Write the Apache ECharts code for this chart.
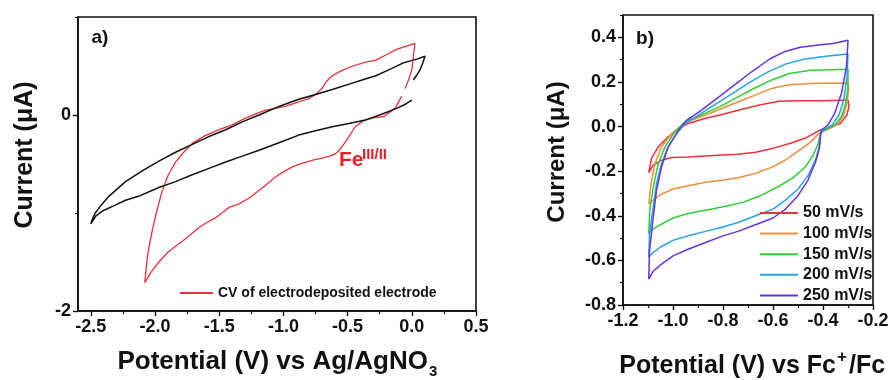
<!DOCTYPE html>
<html>
<head>
<meta charset="utf-8">
<script src="https://cdn.jsdelivr.net/npm/echarts@6/dist/echarts.min.js"></script>
<style>html,body{margin:0;padding:0;background:#fff}#c{width:892px;height:380px}</style>
</head>
<body>
<div id="c"></div>
<script>
// ---------- Panel a data ----------
const aLabelTicks = [-2.5, -2.0, -1.5, -1.0, -0.5, 0.0, 0.5];
const aMinorTicks = [-2.25, -1.75, -1.25, -0.75, -0.25, 0.25];
const aYLabelTicks = [-2, 0];
const aYMinorTicks = [-1, 1];
const aLegendName = 'CV of electrodeposited electrode';
const blackCV = [
  [0.0,0.153],[-0.05,0.11],[-0.118,0.068],[-0.25,0.0],[-0.36,-0.05],[-0.5,-0.09],[-0.62,-0.12],
  [-0.75,-0.16],[-0.88,-0.205],[-1.03,-0.28],[-1.19,-0.36],[-1.32,-0.42],[-1.45,-0.48],[-1.58,-0.545],
  [-1.71,-0.61],[-1.84,-0.68],[-1.97,-0.74],[-2.13,-0.83],[-2.23,-0.87],[-2.31,-0.92],[-2.41,-0.98],
  [-2.46,-1.03],[-2.5,-1.11],
  [-2.49,-1.07],[-2.466,-1.0],[-2.42,-0.92],[-2.36,-0.83],[-2.23,-0.68],[-2.1,-0.57],[-1.97,-0.47],
  [-1.84,-0.38],[-1.71,-0.30],[-1.58,-0.22],[-1.45,-0.15],[-1.32,-0.07],[-1.19,0.0],[-1.03,0.09],
  [-0.88,0.16],[-0.75,0.21],[-0.62,0.26],[-0.5,0.31],[-0.357,0.37],[-0.28,0.4],[-0.18,0.46],
  [-0.07,0.53],[0.04,0.57],[0.103,0.60],[0.085,0.53],[0.064,0.46],[0.035,0.40],[0.012,0.357]
];
const redCV = [
  [-0.079,0.19],[-0.13,0.07],[-0.22,-0.017],[-0.3,-0.03],[-0.38,-0.06],[-0.44,-0.12],[-0.48,-0.2],
  [-0.52,-0.28],[-0.565,-0.36],[-0.6,-0.4],[-0.64,-0.42],[-0.7,-0.44],[-0.77,-0.46],[-0.85,-0.49],
  [-0.93,-0.53],[-1.0,-0.58],[-1.06,-0.63],[-1.16,-0.74],[-1.27,-0.85],[-1.35,-0.91],[-1.42,-0.94],
  [-1.48,-1.0],[-1.53,-1.05],[-1.6,-1.1],[-1.66,-1.15],[-1.76,-1.26],[-1.83,-1.33],[-1.9,-1.4],
  [-1.97,-1.5],[-2.03,-1.6],[-2.08,-1.71],
  [-2.07,-1.58],[-2.06,-1.45],[-2.04,-1.3],[-2.02,-1.17],[-1.99,-1.0],[-1.95,-0.8],[-1.9,-0.62],
  [-1.84,-0.48],[-1.77,-0.37],[-1.71,-0.29],[-1.61,-0.21],[-1.5,-0.15],[-1.4,-0.1],[-1.29,-0.03],
  [-1.2,0.02],[-1.14,0.05],[-1.05,0.07],[-0.98,0.09],[-0.88,0.135],[-0.8,0.17],[-0.75,0.21],
  [-0.70,0.27],[-0.66,0.35],[-0.62,0.4],[-0.55,0.45],[-0.46,0.5],[-0.36,0.54],[-0.28,0.56],
  [-0.22,0.6],[-0.12,0.67],[0.025,0.73],[0.012,0.6],[0.0,0.46],[-0.025,0.36],[-0.053,0.27]
];

// ---------- Panel b data ----------
const bYLabelTicks = [-0.8, -0.6, -0.4, -0.2, 0.0, 0.2, 0.4];
const bYMinorTicks = [-0.7, -0.5, -0.3, -0.1, 0.1, 0.3, 0.5];
const bXLabelTicks = [-1.2, -1.0, -0.8, -0.6, -0.4, -0.2];
const bXMinorTicks = [-1.1, -0.9, -0.7, -0.5, -0.3];
const scanRates = ['50 mV/s', '100 mV/s', '150 mV/s', '200 mV/s', '250 mV/s'];
const cv50 = [
  [-0.41,-0.015],[-0.467,-0.05],[-0.53,-0.075],[-0.602,-0.098],[-0.67,-0.115],[-0.74,-0.124],
  [-0.803,-0.128],[-0.87,-0.132],[-0.938,-0.136],[-1.005,-0.139],[-1.046,-0.151],[-1.079,-0.173],[-1.097,-0.206],
  [-1.086,-0.143],[-1.059,-0.091],[-1.019,-0.046],[-0.965,-0.001],[-0.938,0.014],[-0.87,0.037],
  [-0.8,0.055],[-0.736,0.074],[-0.655,0.097],[-0.575,0.113],[-0.5,0.116],[-0.4,0.116],[-0.3,0.119],
  [-0.296,0.09],[-0.305,0.05],[-0.33,0.015],[-0.37,-0.005],[-0.41,-0.015]
];
const cv100 = [
  [-0.41,-0.025],[-0.45,-0.07],[-0.5,-0.11],[-0.55,-0.15],[-0.6,-0.18],[-0.67,-0.21],[-0.74,-0.23],
  [-0.8,-0.24],[-0.87,-0.25],[-0.94,-0.265],[-1.0,-0.28],[-1.05,-0.305],[-1.08,-0.33],[-1.097,-0.346],
  [-1.088,-0.256],[-1.072,-0.166],[-1.046,-0.091],[-1.005,-0.031],[-0.965,0.007],[-0.924,0.029],
  [-0.87,0.052],[-0.803,0.082],[-0.736,0.112],[-0.669,0.142],[-0.602,0.172],[-0.535,0.187],
  [-0.45,0.193],[-0.3,0.195],
  [-0.297,0.17],[-0.304,0.105],[-0.32,0.044],[-0.346,0.007],[-0.387,-0.016],[-0.41,-0.025]
];
const cv150 = [
  [-0.41,-0.03],[-0.42,-0.08],[-0.44,-0.13],[-0.47,-0.18],[-0.52,-0.23],[-0.58,-0.27],[-0.65,-0.31],
  [-0.72,-0.34],[-0.8,-0.36],[-0.87,-0.375],[-0.94,-0.39],[-1.0,-0.41],[-1.05,-0.44],[-1.08,-0.46],[-1.097,-0.481],
  [-1.093,-0.376],[-1.079,-0.271],[-1.059,-0.166],[-1.032,-0.091],[-0.992,-0.023],[-0.951,0.022],
  [-0.87,0.06],[-0.803,0.095],[-0.736,0.135],[-0.669,0.175],[-0.602,0.21],[-0.535,0.238],
  [-0.45,0.252],[-0.3,0.257],
  [-0.30,0.18],[-0.309,0.105],[-0.326,0.044],[-0.353,0.007],[-0.393,-0.016],[-0.41,-0.03]
];
const cv200 = [
  [-0.41,-0.035],[-0.415,-0.09],[-0.43,-0.15],[-0.46,-0.22],[-0.5,-0.28],[-0.55,-0.33],[-0.6,-0.37],
  [-0.67,-0.40],[-0.74,-0.43],[-0.8,-0.45],[-0.87,-0.47],[-0.94,-0.49],[-1.0,-0.51],[-1.05,-0.54],
  [-1.08,-0.565],[-1.097,-0.586],
  [-1.094,-0.481],[-1.079,-0.361],[-1.066,-0.256],[-1.046,-0.166],[-1.019,-0.091],[-0.985,-0.031],
  [-0.951,0.014],[-0.9,0.05],[-0.83,0.1],[-0.76,0.15],[-0.69,0.2],[-0.62,0.245],[-0.55,0.28],
  [-0.483,0.3],[-0.389,0.315],[-0.3,0.325],
  [-0.304,0.224],[-0.317,0.12],[-0.336,0.052],[-0.363,0.007],[-0.40,-0.016],[-0.41,-0.035]
];
const cv250 = [
  [-0.41,-0.04],[-0.415,-0.1],[-0.43,-0.16],[-0.46,-0.24],[-0.5,-0.31],[-0.55,-0.37],[-0.6,-0.41],
  [-0.67,-0.44],[-0.74,-0.47],[-0.8,-0.49],[-0.87,-0.52],[-0.94,-0.55],[-1.0,-0.58],[-1.05,-0.62],
  [-1.08,-0.65],[-1.097,-0.684],
  [-1.094,-0.556],[-1.079,-0.406],[-1.066,-0.286],[-1.046,-0.181],[-1.019,-0.091],[-0.978,-0.016],
  [-0.945,0.029],[-0.89,0.07],[-0.82,0.13],[-0.75,0.19],[-0.68,0.25],[-0.61,0.305],[-0.555,0.335],
  [-0.49,0.355],[-0.41,0.367],[-0.36,0.372],[-0.3,0.387],
  [-0.306,0.27],[-0.326,0.15],[-0.353,0.06],[-0.38,0.007],[-0.407,-0.016],[-0.41,-0.04]
];
const bSeriesData = [cv50, cv100, cv150, cv200, cv250];
const bColors = ['#e8333b', '#f28c3a', '#2fcd36', '#27a4e8', '#6633dd'];

const FONT = '"Liberation Sans", Arial, sans-serif';
const chart = echarts.init(document.getElementById('c'), null, {renderer: 'canvas'});

function mainAxis(gridIndex, min, max, labelVals, fmt, pos) {
  return {
    type: 'value', gridIndex, min, max, position: pos,
    axisLine: {show: true, onZero: false, lineStyle: {color: '#111', width: 1.6}},
    axisTick: {show: true, inside: false, length: 5, customValues: labelVals, lineStyle: {color: '#111', width: 1.4}},
    axisLabel: {show: true, customValues: labelVals, formatter: fmt, color: '#111',
      fontFamily: FONT, fontWeight: 'bold', fontSize: 18, margin: 7},
    splitLine: {show: false}
  };
}
function minorAxis(gridIndex, min, max, vals, pos) {
  return {
    type: 'value', gridIndex, min, max, position: pos,
    axisLine: {show: false, onZero: false},
    axisTick: {show: true, inside: false, length: 3, customValues: vals, lineStyle: {color: '#111', width: 1.2}},
    axisLabel: {show: false, customValues: vals},
    splitLine: {show: false}
  };
}

const series = [
  {type: 'line', name: '_black', xAxisIndex: 0, yAxisIndex: 0, data: blackCV, symbol: 'none',
   lineStyle: {color: '#111', width: 1.5}, itemStyle: {color: '#111'}, z: 3},
  {type: 'line', name: aLegendName, xAxisIndex: 0, yAxisIndex: 0, data: redCV, symbol: 'none',
   lineStyle: {color: '#e8333b', width: 1.3}, itemStyle: {color: '#e8333b'}, z: 2}
];
scanRates.forEach((n, i) => {
  series.push({type: 'line', name: n, xAxisIndex: 2, yAxisIndex: 2, data: bSeriesData[i], symbol: 'none',
    lineStyle: {color: bColors[i], width: 1.5}, itemStyle: {color: bColors[i]}});
});

const txt = (text, x, y, size, opts) => Object.assign({
  type: 'text', x, y, silent: true,
  style: Object.assign({text, font: 'bold ' + size + 'px ' + FONT, fill: '#111',
    textAlign: 'center', textVerticalAlign: 'middle'}, (opts && opts.style) || {})
}, (opts && opts.el) || {});

const legendCommon = {orient: 'vertical', padding: 0, icon: 'rect', itemHeight: 2,
  itemStyle: {borderWidth: 0}};

chart.setOption({
  animation: false,
  backgroundColor: '#fff',
  grid: [
    {left: 78, top: 17, width: 398, height: 294, show: true, borderColor: '#111', borderWidth: 1.6, backgroundColor: 'transparent'},
    {left: 623, top: 15, width: 250, height: 290, show: true, borderColor: '#111', borderWidth: 1.6, backgroundColor: 'transparent'}
  ],
  xAxis: [
    mainAxis(0, -2.6, 0.5, aLabelTicks, v => v.toFixed(1), 'bottom'),
    minorAxis(0, -2.6, 0.5, aMinorTicks, 'bottom'),
    mainAxis(1, -1.2, -0.2, bXLabelTicks, v => v.toFixed(1), 'bottom'),
    minorAxis(1, -1.2, -0.2, bXMinorTicks, 'bottom')
  ],
  yAxis: [
    mainAxis(0, -2, 1, aYLabelTicks, v => String(v), 'left'),
    minorAxis(0, -2, 1, aYMinorTicks, 'left'),
    mainAxis(1, -0.8, 0.5, bYLabelTicks, v => v.toFixed(1), 'left'),
    minorAxis(1, -0.8, 0.5, bYMinorTicks, 'left')
  ],
  legend: [
    Object.assign({data: [aLegendName], left: 180, top: 285, itemWidth: 33, itemGap: 4,
     textStyle: {fontFamily: FONT, fontWeight: 'bold', fontSize: 14, color: '#111', lineHeight: 16}}, legendCommon),
    Object.assign({data: scanRates, left: 760, top: 205, itemWidth: 38, itemGap: 4.6,
     textStyle: {fontFamily: FONT, fontWeight: 'bold', fontSize: 16, color: '#111', lineHeight: 16}}, legendCommon)
  ],
  graphic: [
    txt('a)', 100, 38, 19),
    txt('b)', 645, 39, 19),
    txt('Current (\u03bcA)', 25, 155, 25, {el: {rotation: Math.PI / 2}}),
    txt('Current (\u03bcA)', 557, 152, 24, {el: {rotation: Math.PI / 2}}),
    txt('Potential (V) vs Ag/AgNO', 428, 362, 26, {style: {textAlign: 'right'}}),
    txt('3', 429, 372, 15, {style: {textAlign: 'left'}}),
    txt('Potential (V) vs Fc', 836, 366, 25, {style: {textAlign: 'right'}}),
    txt('+', 837, 357, 17, {style: {textAlign: 'left'}}),
    txt('/Fc', 849, 366, 25, {style: {textAlign: 'left'}}),
    txt('Fe', 339, 160, 21, {style: {textAlign: 'left', fill: '#e8202a'}}),
    txt('III/II', 362, 155, 15, {style: {textAlign: 'left', fill: '#e8202a'}})
  ],
  series
});
</script>
</body>
</html>
